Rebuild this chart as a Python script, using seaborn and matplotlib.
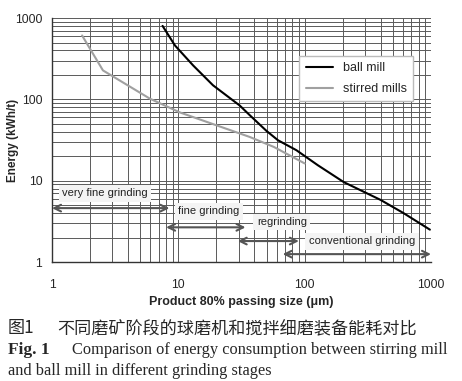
import numpy as np
import pandas as pd
import matplotlib
matplotlib.use("Agg")
import matplotlib.pyplot as plt
import seaborn as sns
from matplotlib.ticker import LogLocator, NullFormatter, FixedLocator, FixedFormatter

# ---- data ----
ball_x = [7.5, 9.4, 13.1, 18.8, 30.6, 36.7, 49.8, 61.5, 86, 127, 204, 399, 605, 980]
ball_y = [800, 460, 261, 149, 84, 64, 41, 31.4, 23.7, 15.5, 9.6, 5.8, 4.0, 2.5]
stir_x = [1.73, 2.53, 5.95, 10.3, 20, 36.7, 57, 100]
stir_y = [610, 227, 102, 69, 48, 34.5, 26, 16.3]
series_names = ["ball mill", "stirred mills"]

stage_labels = ["very fine grinding", "fine grinding", "regrinding", "conventional grinding"]
stage_start = [1, 8, 29.5, 67]
stage_end = [8.5, 34, 90, 1000]
arrow_y = [4.6, 2.67, 1.81, 1.25]
label_x = [2.63, 17.4, 66, 284]
label_y = [7.0, 4.2, 3.1, 1.81]

x_ticks = [1, 10, 100, 1000]
y_ticks = [1, 10, 100, 1000]

df = pd.DataFrame({
    "x": ball_x + stir_x,
    "y": ball_y + stir_y,
    "series": [series_names[0]] * len(ball_x) + [series_names[1]] * len(stir_x),
})

sns.set_style("white")
plt.rcParams['font.family'] = ['Liberation Sans', 'DejaVu Sans']

fig = plt.figure(figsize=(4.62, 3.81), dpi=100)
ax = fig.add_axes([0.1126, 0.3123, 0.8203, 0.6404])

sns.lineplot(data=df, x="x", y="y", hue="series", palette=["#000000", "#a0a0a0"],
             sort=False, estimator=None, linewidth=1.5, ax=ax)

ax.set_xscale("log")
ax.set_yscale("log")
ax.set_xlim(1, 1000)
ax.set_ylim(1, 1000)

ax.xaxis.set_major_locator(FixedLocator(x_ticks))
ax.xaxis.set_major_formatter(FixedFormatter([str(t) for t in x_ticks]))
ax.yaxis.set_major_locator(FixedLocator(y_ticks))
ax.yaxis.set_major_formatter(FixedFormatter([str(t) for t in y_ticks]))
ax.xaxis.set_minor_locator(LogLocator(base=10, subs=np.arange(2, 10)))
ax.yaxis.set_minor_locator(LogLocator(base=10, subs=np.arange(2, 10)))
ax.xaxis.set_minor_formatter(NullFormatter())
ax.yaxis.set_minor_formatter(NullFormatter())

ax.grid(True, which="both", color="#5a5a5a", linewidth=0.7)
ax.set_axisbelow(True)
for s in ["top", "right"]:
    ax.spines[s].set_visible(False)
for s in ["left", "bottom"]:
    ax.spines[s].set_color("#333333")
    ax.spines[s].set_linewidth(1.0)
ax.tick_params(which="major", length=4, width=1, color="#333333", labelsize=8.7)
ax.tick_params(axis="x", which="major", pad=8)
ax.tick_params(axis="y", which="major", pad=3)
ax.tick_params(which="minor", length=0)

ax.set_xlabel("Product 80% passing size (\u03bcm)", fontsize=9, fontweight="bold")
ax.set_ylabel("Energy (kWh/t)", fontsize=8.5, fontweight="bold")
ax.xaxis.set_label_coords(0.5, -0.14)
ax.yaxis.set_label_coords(-0.087, 0.5)

leg = ax.legend(loc="upper left", bbox_to_anchor=(0.636, 0.869), fontsize=9,
                frameon=True, fancybox=False, title=None, handlelength=2.2,
                borderpad=0.5, labelspacing=0.7)
leg.get_frame().set_edgecolor("#bbbbbb")
leg.get_frame().set_facecolor("white")
leg.get_frame().set_alpha(1)

for lab, x0, x1, ya, lx, ly in zip(stage_labels, stage_start, stage_end, arrow_y, label_x, label_y):
    ax.annotate("", xy=(x0, ya), xytext=(x1, ya),
                arrowprops=dict(arrowstyle="<->", color="#555555", lw=1.5,
                                shrinkA=0, shrinkB=0, mutation_scale=12))
    ax.text(lx, ly, lab, fontsize=8, color="#222222", ha="center", va="center",
            bbox=dict(facecolor="#f4f4f4", edgecolor="none", pad=2.5))

fig.text(8 / 462, 1 - 328 / 381, "图1", fontsize=12.3,
         family=["Noto Sans CJK SC", "DejaVu Sans"], va="center", ha="left")
fig.text(57 / 462, 1 - 328 / 381, "不同磨矿阶段的球磨机和搅拌细磨装备能耗对比", fontsize=12.3,
         family=["Noto Sans CJK SC", "DejaVu Sans"], va="center", ha="left")
fig.text(8 / 462, 1 - 350 / 381, "Fig. 1", fontsize=12.5, family="Liberation Serif",
         fontweight="bold", va="center", ha="left")
fig.text(72 / 462, 1 - 350 / 381, "Comparison of energy consumption between stirring mill",
         fontsize=11.8, family="Liberation Serif", va="center", ha="left")
fig.text(8 / 462, 1 - 371 / 381, "and ball mill in different grinding stages",
         fontsize=11.8, family="Liberation Serif", va="center", ha="left")

fig.savefig("out.png", dpi=100)
